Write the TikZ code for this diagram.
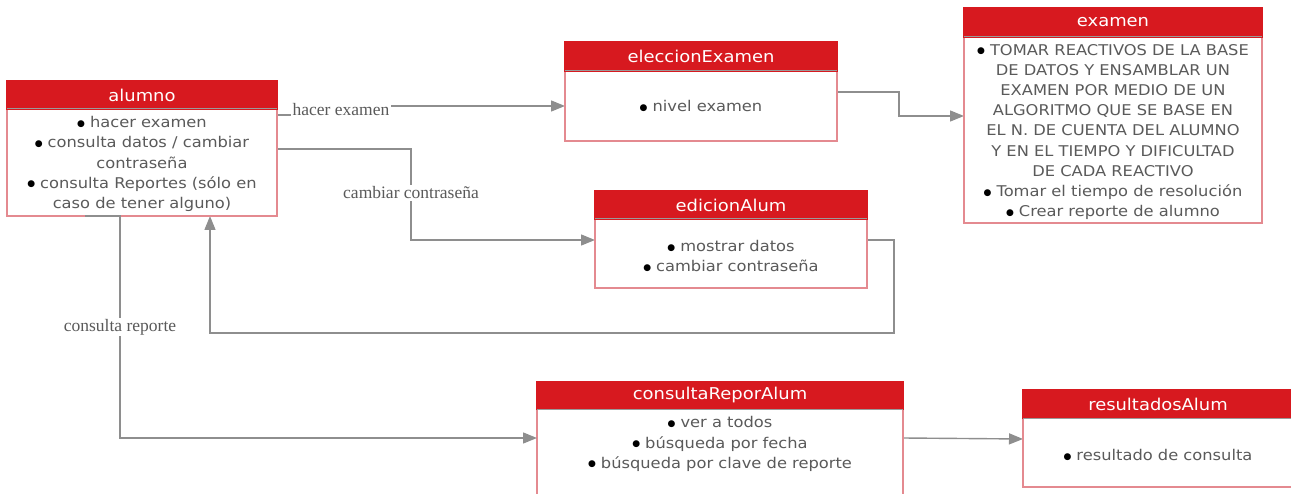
\documentclass[tikz,border=0pt]{standalone}
\usepackage{fontspec}
\setmainfont{DejaVu Sans}[FakeStretch=1.1]
\newfontfamily\lblserif{Liberation Serif}
\newfontfamily\bulfont{DejaVu Sans}
\usetikzlibrary{arrows.meta,calc}
\pgfdeclarelayer{bg}
\pgfdeclarelayer{fg}
\pgfsetlayers{bg,main,fg}
\definecolor{hdrred}{HTML}{D7191F}
\definecolor{bordpink}{HTML}{E48A90}
\definecolor{txtgray}{HTML}{5A5A5A}
\definecolor{conngray}{HTML}{8E8E8E}
\definecolor{sepgray}{HTML}{9A9A9A}
\newcommand\bodyfont{\fontsize{14.8}{20.2}\selectfont}
\newcommand\hdrfont{\fontsize{16.3}{20}\selectfont}
\newcommand\bul{\raisebox{1.3pt}{\textcolor{black}{\bulfont\fontsize{9}{9}\selectfont ●}}\hspace{5pt}}
\tikzset{
  bodybox/.style={draw=bordpink, line width=1.2pt, fill=white, anchor=north west, inner sep=0pt, outer sep=0pt},
  hdrbox/.style={fill=hdrred, draw=hdrred, line width=1.2pt, anchor=north west, inner sep=0pt, outer sep=0pt, text=white, font=\hdrfont},
  bodytxt/.style={align=center, text=txtgray, font=\bodyfont, inner sep=0pt},
  lbl/.style={fill=white, inner sep=1.5pt, text=txtgray, font=\lblserif\fontsize{17.5}{20}\selectfont},
  conn/.style={draw=conngray, line width=1.4pt, -{Triangle[length=14pt,width=11pt]}},
  sepline/.style={draw=sepgray, line width=1pt}
}
\begin{document}
\begin{tikzpicture}[x=1pt,y=-1pt]
\useasboundingbox (0,0) rectangle (1291,494);
\clip (0,0) rectangle (1291,494);

% alumno
\node[bodybox, minimum width=270pt, minimum height=135pt] (alumnoB) at (7,81) {};
\node[hdrbox, minimum width=270pt, minimum height=28pt] (alumnoH) at (7,81) {alumno};
\draw[sepline] (alumnoH.south west) -- (alumnoH.south east);
\node[bodytxt] (alumnoT) at (142,164) {\bul hacer examen\\ \bul consulta datos / cambiar\\ contraseña\\ \bul consulta Reportes (sólo en\\ caso de tener alguno)};

% eleccionExamen
\node[bodybox, minimum width=272pt, minimum height=99pt] (elecB) at (565,42) {};
\node[hdrbox, minimum width=272pt, minimum height=29pt] (elecH) at (565,42) {eleccionExamen};
\draw[sepline] (elecH.south west) -- (elecH.south east);
\node[bodytxt] (elecT) at (701,106) {\bul nivel examen};

% examen
\node[bodybox, minimum width=298pt, minimum height=215pt] (exB) at (964,8) {};
\node[hdrbox, minimum width=298pt, minimum height=29pt] (exH) at (964,8) {examen};
\draw[sepline] (exH.south west) -- (exH.south east);
\node[bodytxt] (exT) at (1113,132) {\bul TOMAR REACTIVOS DE LA BASE\\ DE DATOS Y ENSAMBLAR UN\\ EXAMEN POR MEDIO DE UN\\ ALGORITMO QUE SE BASE EN\\ EL N. DE CUENTA DEL ALUMNO\\ Y EN EL TIEMPO Y DIFICULTAD\\ DE CADA REACTIVO\\ \bul Tomar el tiempo de resolución\\ \bul Crear reporte de alumno};

% edicionAlum
\node[bodybox, minimum width=272pt, minimum height=97pt] (ediB) at (595,191) {};
\node[hdrbox, minimum width=272pt, minimum height=28pt] (ediH) at (595,191) {edicionAlum};
\draw[sepline] (ediH.south west) -- (ediH.south east);
\node[bodytxt] (ediT) at (731,256) {\bul mostrar datos\\ \bul cambiar contraseña};

% consultaReporAlum
\node[bodybox, minimum width=366pt, minimum height=130pt] (crB) at (537,382) {};
\node[hdrbox, minimum width=366pt, minimum height=27pt] (crH) at (537,382) {consultaReporAlum};
\draw[sepline] (crH.south west) -- (crH.south east);
\node[bodytxt] (crT) at (720,444) {\bul ver a todos\\ \bul búsqueda por fecha\\ \bul búsqueda por clave de reporte};

% resultadosAlum
\node[bodybox, minimum width=270pt, minimum height=97pt] (resB) at (1023,390) {};
\node[hdrbox, minimum width=270pt, minimum height=28pt] (resH) at (1023,390) {resultadosAlum};
\draw[sepline] (resH.south west) -- (resH.south east);
\node[bodytxt] (resT) at (1158,455) {\bul resultado de consulta};

% labels (on top)
\begin{pgfonlayer}{fg}
\node[lbl] (lhacer) at (341,110) {hacer examen};
\node[lbl] (lcambiar) at (411,193) {cambiar contraseña};
\node[lbl] (lrep) at (120,327) {consulta reporte};
\end{pgfonlayer}

% connectors (behind)
\begin{pgfonlayer}{bg}
\draw[conn] ($(alumnoB.north east)+(0,34)$) -| (lhacer.center) |- ($(elecB.north west)+(0,64)$);
\draw[conn] ($(alumnoB.north east)+(0,68)$) -| (lcambiar.center) |- ($(ediB.north west)+(0,49)$);
\draw[conn] ($(ediB.north east)+(0,49)$) -- ++(27,0) |- ($(alumnoB.south west)+(203,117)$) -- ($(alumnoB.south west)+(203,0)$);
\draw[conn] ($(crB.north east)+(0,56)$) -- ($(resB.north west)+(0,49)$);
\draw[conn] ($(elecB.north east)+(0,50)$) -- ++(62,0) |- ($(exB.north west)+(0,108)$);
\end{pgfonlayer}
\draw[conn] ($(alumnoB.south west)+(78,0)$) -- ($(alumnoB.south west)+(113,0)$) -- (lrep.center) |- ($(crB.north west)+(0,56)$);
\end{tikzpicture}
\end{document}
